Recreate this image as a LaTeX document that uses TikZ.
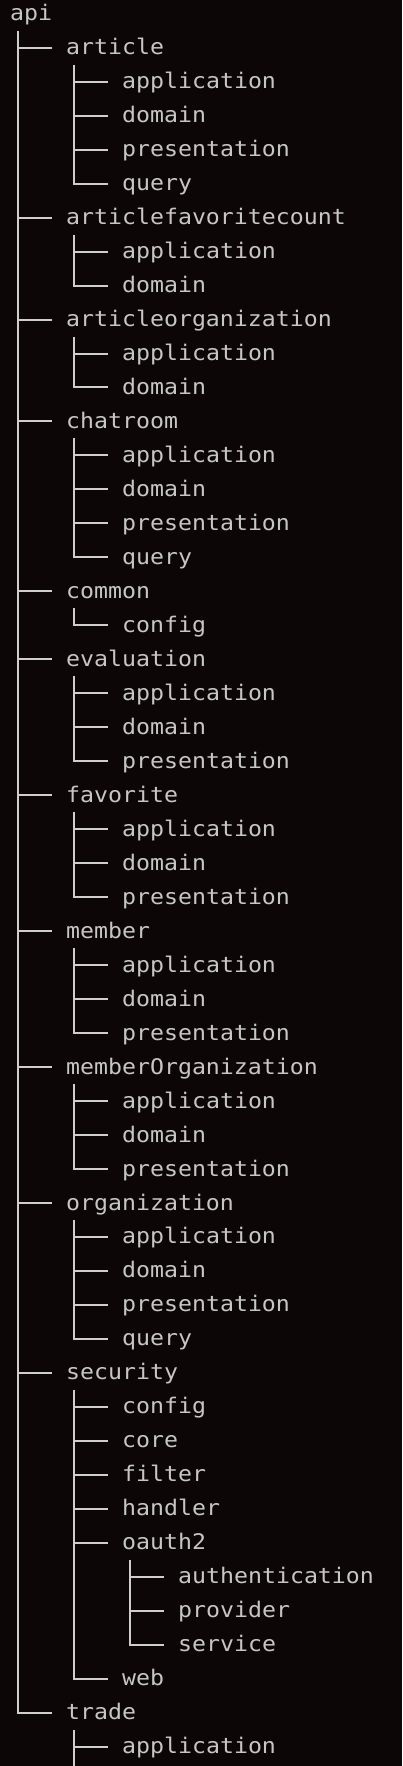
\documentclass[tikz,border=0pt]{standalone}
\usepackage{fontspec}
\newfontfamily\tfont[FakeStretch=1.08]{DejaVu Sans Mono}
\definecolor{bg}{RGB}{12,6,6}
\definecolor{fg}{RGB}{198,198,198}
\definecolor{ln}{RGB}{206,206,206}
\tikzset{
  txt/.style={anchor=base west, text=fg, inner sep=0pt, font=\tfont\fontsize{21.5}{34}\selectfont},
  conn/.style={draw=ln, line width=2pt}
}
\newcommand\tn[4]{\node[txt] (#1) at ({10+56*#2},{-(20.7+33.98*#3)}) {#4};}
\newcommand\hc[1]{\draw[conn] ([shift={(-48,7)}]#1.base west) -- ([shift={(-14,7)}]#1.base west);}
\newcommand\vc[2]{\draw[conn] ([shift={(8,-10)}]#1.base west) -- ([shift={(-48,7)}]#2.base west) -- ([shift={(-14,7)}]#2.base west);}
\begin{document}
\begin{tikzpicture}[x=1pt,y=1pt]
\fill[bg] (0,0) rectangle (402,-1766);
\useasboundingbox (0,0) rectangle (402,-1766);
\tn{api}{0}{0}{api}
\tn{art}{1}{1}{article}
\tn{artA}{2}{2}{application}
\tn{artD}{2}{3}{domain}
\tn{artP}{2}{4}{presentation}
\tn{artQ}{2}{5}{query}
\tn{afc}{1}{6}{articlefavoritecount}
\tn{afcA}{2}{7}{application}
\tn{afcD}{2}{8}{domain}
\tn{ao}{1}{9}{articleorganization}
\tn{aoA}{2}{10}{application}
\tn{aoD}{2}{11}{domain}
\tn{cr}{1}{12}{chatroom}
\tn{crA}{2}{13}{application}
\tn{crD}{2}{14}{domain}
\tn{crP}{2}{15}{presentation}
\tn{crQ}{2}{16}{query}
\tn{cm}{1}{17}{common}
\tn{cmC}{2}{18}{config}
\tn{ev}{1}{19}{evaluation}
\tn{evA}{2}{20}{application}
\tn{evD}{2}{21}{domain}
\tn{evP}{2}{22}{presentation}
\tn{fv}{1}{23}{favorite}
\tn{fvA}{2}{24}{application}
\tn{fvD}{2}{25}{domain}
\tn{fvP}{2}{26}{presentation}
\tn{mb}{1}{27}{member}
\tn{mbA}{2}{28}{application}
\tn{mbD}{2}{29}{domain}
\tn{mbP}{2}{30}{presentation}
\tn{mo}{1}{31}{memberOrganization}
\tn{moA}{2}{32}{application}
\tn{moD}{2}{33}{domain}
\tn{moP}{2}{34}{presentation}
\tn{og}{1}{35}{organization}
\tn{ogA}{2}{36}{application}
\tn{ogD}{2}{37}{domain}
\tn{ogP}{2}{38}{presentation}
\tn{ogQ}{2}{39}{query}
\tn{sc}{1}{40}{security}
\tn{scC}{2}{41}{config}
\tn{scCo}{2}{42}{core}
\tn{scF}{2}{43}{filter}
\tn{scH}{2}{44}{handler}
\tn{scO}{2}{45}{oauth2}
\tn{oA}{3}{46}{authentication}
\tn{oP}{3}{47}{provider}
\tn{oS}{3}{48}{service}
\tn{scW}{2}{49}{web}
\tn{tr}{1}{50}{trade}
\tn{trA}{2}{51}{application}
% api
\foreach \c in {art,afc,ao,cr,cm,ev,fv,mb,mo,og,sc} {\hc{\c}}
\vc{api}{tr}
\foreach \c in {artA,artD,artP} {\hc{\c}}
\vc{art}{artQ}
\hc{afcA} \vc{afc}{afcD}
\hc{aoA} \vc{ao}{aoD}
\foreach \c in {crA,crD,crP} {\hc{\c}}
\vc{cr}{crQ}
\vc{cm}{cmC}
\hc{evA} \hc{evD} \vc{ev}{evP}
\hc{fvA} \hc{fvD} \vc{fv}{fvP}
\hc{mbA} \hc{mbD} \vc{mb}{mbP}
\hc{moA} \hc{moD} \vc{mo}{moP}
\foreach \c in {ogA,ogD,ogP} {\hc{\c}}
\vc{og}{ogQ}
\foreach \c in {scC,scCo,scF,scH,scO} {\hc{\c}}
\vc{sc}{scW}
\hc{oA} \hc{oP} \vc{scO}{oS}
\coordinate (trEnd) at (74,-1766);
\draw[conn] ([shift={(8,-10)}]tr.base west) -- (trEnd);
\hc{trA}
\end{tikzpicture}
\end{document}
